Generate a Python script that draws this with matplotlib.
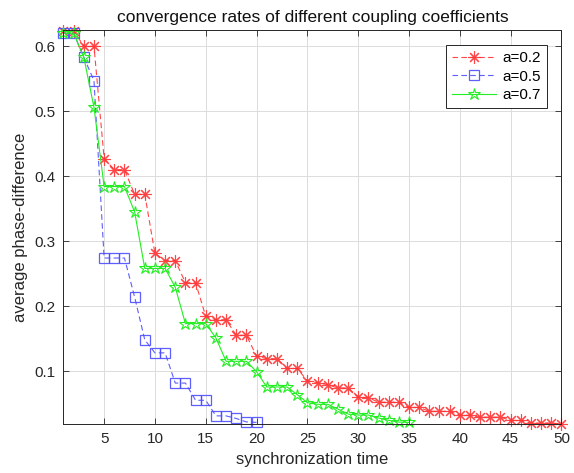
import matplotlib
matplotlib.use("Agg")
import matplotlib.pyplot as plt
import numpy as np

plt.rcParams['font.family'] = ['Liberation Sans', 'DejaVu Sans']

# data
x_02 = list(range(1, 51))
y_02 = [0.624, 0.624, 0.600, 0.600, 0.427, 0.410, 0.410, 0.372, 0.372, 0.281,
        0.270, 0.270, 0.236, 0.236, 0.184, 0.179, 0.179, 0.155, 0.155, 0.123,
        0.119, 0.119, 0.104, 0.104, 0.085, 0.082, 0.079, 0.074, 0.074, 0.060,
        0.059, 0.052, 0.052, 0.052, 0.044, 0.044, 0.038, 0.038, 0.038, 0.032,
        0.032, 0.029, 0.029, 0.029, 0.024, 0.024, 0.020, 0.020, 0.020, 0.0185]

x_05 = list(range(1, 21))
y_05 = [0.620, 0.620, 0.583, 0.547, 0.274, 0.274, 0.274, 0.214, 0.148, 0.128,
        0.128, 0.0815, 0.0815, 0.055, 0.055, 0.031, 0.031, 0.027, 0.0217, 0.021]

x_07 = list(range(1, 36))
y_07 = [0.620, 0.620, 0.583, 0.506, 0.384, 0.384, 0.384, 0.345, 0.258, 0.258,
        0.258, 0.229, 0.173, 0.173, 0.173, 0.151, 0.115, 0.115, 0.115, 0.099,
        0.0755, 0.0755, 0.0755, 0.0637, 0.0514, 0.0488, 0.0488, 0.0415, 0.0338, 0.0323,
        0.0323, 0.0277, 0.0241, 0.0215, 0.021]

labels = ['a=0.2', 'a=0.5', 'a=0.7']
xticks = [5, 10, 15, 20, 25, 30, 35, 40, 45, 50]
yticks = [0.1, 0.2, 0.3, 0.4, 0.5, 0.6]

fig = plt.figure(figsize=(5.74, 4.73), dpi=100)
ax = fig.add_axes([0.1106, 0.1036, 0.8675, 0.833])

lw = 0.8
ax.plot(x_02, y_02, linestyle='--', color='#ff3333', marker=(8, 2, 0), markersize=9,
        markeredgewidth=0.8, linewidth=lw, label=labels[0], alpha=0.9, dashes=(5, 3),
        clip_on=False, zorder=3)
ax.plot(x_05, y_05, linestyle='--', color='#4d4dff', marker='s', markersize=7,
        markerfacecolor='none', markeredgewidth=0.9, linewidth=lw, label=labels[1],
        alpha=0.9, dashes=(5, 3), clip_on=False, zorder=3)
ax.plot(x_07, y_07, linestyle='-', color='#22ee22', marker='*', markersize=9,
        markerfacecolor='none', markeredgewidth=0.8, linewidth=lw, label=labels[2],
        clip_on=False, zorder=3)

ax.set_xlim(1, 50)
ax.set_ylim(0.0185, 0.625)
ax.set_xticks(xticks)
ax.set_yticks(yticks)
ax.set_yticklabels([f'{v:.1f}' for v in yticks])

ax.grid(True, color='#dcdcdc', linewidth=0.7)
ax.set_axisbelow(True)
ax.tick_params(direction='in', top=True, right=True, length=4, width=0.6,
               labelsize=11, colors='#262626', pad=6)
for s in ax.spines.values():
    s.set_color('#262626')
    s.set_linewidth(0.7)
    s.set_zorder(4)

ax.set_title('convergence rates of different coupling coefficients', fontsize=12.5,
             color='#111111', pad=6)
ax.set_xlabel('synchronization time', fontsize=12, color='#262626')
ax.set_ylabel('average phase-difference', fontsize=12, color='#262626')

leg = ax.legend(loc='upper right', bbox_to_anchor=(0.971, 0.962), fontsize=11,
                fancybox=False, framealpha=1, edgecolor='#262626', handlelength=2.9,
                borderpad=0.4, labelspacing=0.3, handletextpad=0.4, borderaxespad=0)
leg.get_frame().set_linewidth(0.7)
leg.set_zorder(5)

fig.savefig('out.png', dpi=100)
